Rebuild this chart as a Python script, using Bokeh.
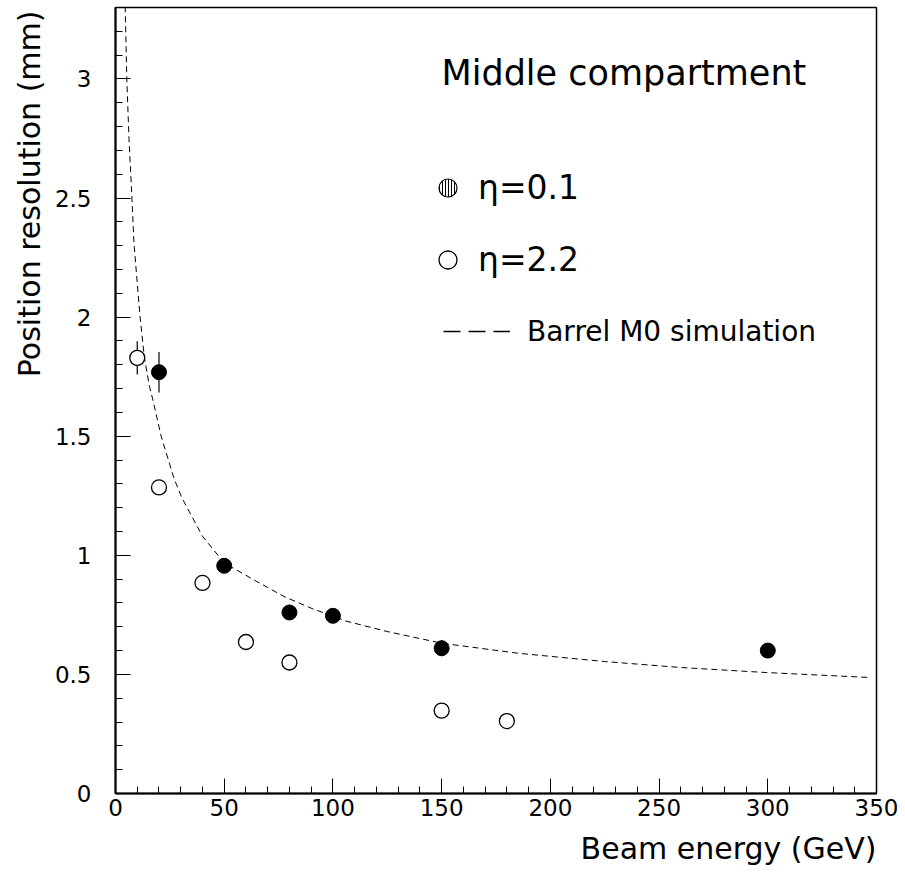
import numpy as np
from bokeh.plotting import figure
from bokeh.models import (Range1d, SingleIntervalTicker, CustomJSTickFormatter, Label,
                          Legend, LegendItem, Title)
from bokeh.embed import file_html
from bokeh.resources import INLINE

# ---- data ----
E_eta01 = [20, 50, 80, 100, 150, 300]
res_eta01 = [1.769, 0.956, 0.760, 0.746, 0.610, 0.600]
err_eta01 = [0.085, 0.02, 0.015, 0.01, 0.034, 0.01]

E_eta22 = [10, 20, 40, 60, 80, 150, 180]
res_eta22 = [1.829, 1.285, 0.884, 0.636, 0.550, 0.348, 0.304]
err_eta22 = [0.07, 0.01, 0.01, 0.01, 0.01, 0.01, 0.01]

E_sim = [4.45, 5.2, 6.2, 7.5, 8.5, 11.3, 13.3, 15.6, 17, 21, 27, 30.6, 40, 50, 65,
         77.5, 90, 106, 125, 150, 185, 225, 260, 299, 347]
res_sim = [3.305, 3.0, 2.75, 2.51, 2.31, 2.0, 1.83, 1.71, 1.66, 1.50, 1.32, 1.24, 1.08,
           0.968, 0.89, 0.827, 0.778, 0.724, 0.680, 0.631, 0.589, 0.554, 0.529, 0.508, 0.487]

FONT = "DejaVu Sans"

p = figure(width=905, height=878, output_backend="svg", toolbar_location=None,
           x_range=Range1d(0, 350), y_range=Range1d(0, 3.3),
           min_border_left=115, min_border_right=29, min_border_top=7, min_border_bottom=85)
p.xgrid.visible = False
p.ygrid.visible = False
p.outline_line_color = "black"
p.outline_line_width = 1.5

for ax in (p.xaxis[0], p.yaxis[0]):
    ax.axis_line_width = 2
    ax.axis_line_color = "black"
    ax.major_tick_in = 15
    ax.major_tick_out = 0
    ax.minor_tick_in = 7
    ax.minor_tick_out = 0
    ax.major_tick_line_color = "black"
    ax.minor_tick_line_color = "black"
    ax.major_label_text_font = FONT
    ax.major_label_text_font_size = "23px"
    ax.major_label_text_color = "black"

p.xaxis.ticker = SingleIntervalTicker(interval=50, num_minor_ticks=5)
p.yaxis.ticker = SingleIntervalTicker(interval=0.5, num_minor_ticks=5)
p.yaxis.formatter = CustomJSTickFormatter(code="return String(Math.round(tick*10)/10);")
p.xaxis.formatter = CustomJSTickFormatter(code="return String(Math.round(tick));")
p.yaxis.major_label_standoff = 24
p.xaxis.major_label_standoff = 5

# axis titles as Title objects placed outside the axes
p.add_layout(Title(text="Beam energy (GeV)", align="right", text_font=FONT,
                   text_font_size="30px", text_font_style="normal", text_color="black",
                   standoff=21, offset=0), "below")
p.add_layout(Title(text="Position resolution (mm)", align="right", text_font=FONT,
                   text_font_size="30px", text_font_style="normal", text_color="black",
                   standoff=10, offset=3), "left")

# simulation curve
p.line(E_sim, res_sim, line_color="black", line_width=1, line_dash="6 4")

# error bars
p.segment(x0=E_eta01, x1=E_eta01,
          y0=[v - e for v, e in zip(res_eta01, err_eta01)],
          y1=[v + e for v, e in zip(res_eta01, err_eta01)], line_color="black", line_width=1.2)
p.segment(x0=E_eta22, x1=E_eta22,
          y0=[v - e for v, e in zip(res_eta22, err_eta22)],
          y1=[v + e for v, e in zip(res_eta22, err_eta22)], line_color="black", line_width=1.2)

# markers
p.scatter(E_eta01, res_eta01, marker="circle", size=15, fill_color="black", line_color="black")
p.scatter(E_eta22, res_eta22, marker="circle", size=15, fill_color="white", line_color="black",
          line_width=1.3)

# legend-only renderers (NaN data so nothing is drawn in the plot area)
nan = [float("nan")]
r_leg1 = p.scatter(x=nan, y=nan, marker="circle", size=18, fill_color="white", line_color="black",
                   line_width=1.2, hatch_pattern="|", hatch_color="black", hatch_scale=3,
                   hatch_weight=1)
r_leg2 = p.scatter(x=nan, y=nan, marker="circle", size=18, fill_color="white", line_color="black",
                   line_width=1.3)
r_leg3 = p.line(x=nan, y=nan, line_color="black", line_width=1.3, line_dash="17 8")

leg1 = Legend(items=[LegendItem(label="η=0.1", renderers=[r_leg1]),
                     LegendItem(label="η=2.2", renderers=[r_leg2])],
              location=(310, 511), glyph_width=45, glyph_height=45, label_height=45,
              spacing=27, padding=0, margin=0, label_standoff=8,
              label_text_font=FONT, label_text_font_size="33px", label_text_color="black",
              label_text_baseline="middle",
              border_line_alpha=0, background_fill_alpha=0)
leg2 = Legend(items=[LegendItem(label="Barrel M0 simulation", renderers=[r_leg3])],
              location=(328, 442), glyph_width=67, glyph_height=40, label_height=40,
              padding=0, margin=0, label_standoff=17,
              label_text_font=FONT, label_text_font_size="28px", label_text_color="black",
              label_text_baseline="middle",
              border_line_alpha=0, background_fill_alpha=0)
p.add_layout(leg1)
p.add_layout(leg2)

p.add_layout(Label(x=326, y=721, x_units="screen", y_units="screen", text="Middle compartment",
                   text_font=FONT, text_font_size="35px", text_color="black",
                   text_baseline="middle", text_align="left"))

open("out.html", "w").write(file_html(p, INLINE))
